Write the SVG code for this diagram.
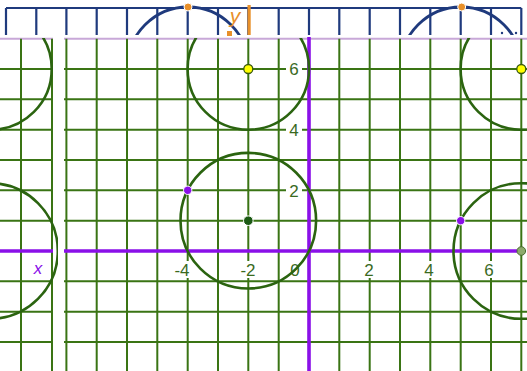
<svg xmlns="http://www.w3.org/2000/svg" width="527" height="371" viewBox="0 0 527 371">
<style>
.g{stroke:#3a7414;stroke-width:2;fill:none}
.nv{stroke:#1f3a7d;stroke-width:2.2;fill:none}
.c{stroke:#2b6410;stroke-width:2.6;fill:none}
.cn{stroke:#1f3a7d;stroke-width:2.8;fill:none}
.ax{stroke:#8a10e8;stroke-width:3.6;fill:none}
.lb{font-family:"Liberation Sans",Arial,sans-serif;font-size:17px;fill:#3a6a1e}
.bg{fill:#ffffff}
</style>
<defs>
<clipPath id="cm"><rect x="62" y="38" width="465" height="333"/></clipPath>
<clipPath id="cl"><rect x="0" y="38" width="58" height="333"/></clipPath>
<clipPath id="ct"><rect x="0" y="0" width="527" height="35"/></clipPath>
</defs>
<rect width="527" height="371" fill="#ffffff"/>
<g id="top-strip">
<path class="nv" d="M6 8H521.3M6 8V35M36.3 8V35M66.4 8V35M96.7 8V35M127 8V35M157.3 8V35M187.7 8V35M218 8V35M248.3 8V35M278.7 8V35M309 8V35M339.3 8V35M369.7 8V35M400 8V35M430.3 8V35M460.7 8V35M491 8V35M521.3 8V35"/>
<g clip-path="url(#ct)">
<circle class="cn" cx="188" cy="67.7" r="60.7"/>
<circle class="cn" cx="461" cy="67.7" r="60.7"/>
</g>
<circle cx="502" cy="33" r="1.2" fill="#1f3a7d"/>
<circle cx="516" cy="33" r="1.2" fill="#1f3a7d"/>
<rect x="227" y="31" width="5" height="5" fill="#e8902a"/>
<rect x="247.5" y="5" width="3.2" height="30" fill="#e8902a"/>
<text x="235" y="23" font-family="Liberation Sans,Arial,sans-serif" font-size="21" font-style="italic" fill="#e8902a" text-anchor="middle">y</text>
<circle cx="188" cy="7" r="4" fill="#e8902a" stroke="#ffffff" stroke-width="1"/>
<circle cx="461.7" cy="7" r="4" fill="#e8902a" stroke="#ffffff" stroke-width="1"/>
</g>
<g id="left-strip">
<path d="M0 38.7H53" stroke="#c8a8d8" stroke-width="2"/>
<path class="g" d="M21 38.7V371M52 38.7V371M0 69H53M0 99.3H53M0 129.7H53M0 160H53M0 190.3H53M0 220.7H53M0 281.3H53M0 311.7H53M0 342H53"/>
<path class="ax" d="M0 251H53"/>
<g clip-path="url(#cl)">
<circle class="c" cx="-9" cy="69" r="60.7"/>
<circle class="c" cx="-10" cy="251" r="67.8"/>
</g>
<text x="38" y="274" font-family="Liberation Sans,Arial,sans-serif" font-size="17" font-style="italic" fill="#8a10e8" text-anchor="middle">x</text>
</g>
<g id="grid">
<path d="M64 38.7H527" stroke="#c8a8d8" stroke-width="2"/>
<path class="g" d="M66.4 38.7V371M96.7 38.7V371M127 38.7V371M157.3 38.7V371M187.7 38.7V371M218 38.7V371M248.3 38.7V371M278.7 38.7V371M339.3 38.7V371M369.7 38.7V371M400 38.7V371M430.3 38.7V371M460.7 38.7V371M491 38.7V371M521.3 38.7V371M64 69H527M64 99.3H527M64 129.7H527M64 160H527M64 190.3H527M64 220.7H527M64 281.3H527M64 311.7H527M64 342H527"/>
</g>
<g id="labels">
<rect class="bg" x="286" y="60" width="16" height="18"/>
<text class="lb" x="294" y="75" text-anchor="middle">6</text>
<rect class="bg" x="286" y="121" width="16" height="18"/>
<text class="lb" x="294" y="135.5" text-anchor="middle">4</text>
<rect class="bg" x="286" y="182" width="16" height="18"/>
<text class="lb" x="294" y="197" text-anchor="middle">2</text>
<rect class="bg" x="288" y="261" width="14" height="17"/>
<text class="lb" x="295" y="276" text-anchor="middle">0</text>
<rect class="bg" x="361" y="261" width="16" height="17"/>
<text class="lb" x="369" y="276" text-anchor="middle">2</text>
<rect class="bg" x="421" y="261" width="16" height="17"/>
<text class="lb" x="429" y="276" text-anchor="middle">4</text>
<rect class="bg" x="481" y="261" width="16" height="17"/>
<text class="lb" x="489" y="276" text-anchor="middle">6</text>
<rect class="bg" x="172" y="261" width="20" height="17"/>
<text class="lb" x="182" y="276" text-anchor="middle">-4</text>
<rect class="bg" x="238" y="261" width="20" height="17"/>
<text class="lb" x="248" y="276" text-anchor="middle">-2</text>
</g>
<g id="axes">
<path class="ax" d="M64 251H517"/>
<path class="ax" d="M309 37V371"/>
</g>
<g id="circles" clip-path="url(#cm)">
<circle class="c" cx="248.3" cy="69" r="60.7"/>
<circle class="c" cx="248.3" cy="220.7" r="67.8"/>
<circle class="c" cx="521.3" cy="251" r="67.8"/>
<circle class="c" cx="521.3" cy="69" r="60.7"/>
</g>
<g id="points">
<circle cx="248.3" cy="69" r="4.5" fill="#ffff00" stroke="#3a5a10" stroke-width="1.3"/>
<circle cx="521.3" cy="69" r="4.5" fill="#ffff00" stroke="#3a5a10" stroke-width="1.3"/>
<circle cx="248.3" cy="220.7" r="4.8" fill="#1c5a14" stroke="#ffffff" stroke-width="1"/>
<circle cx="187.7" cy="190.3" r="4.2" fill="#8a10e8" stroke="#ffffff" stroke-width="1"/>
<circle cx="460.7" cy="220.7" r="4.2" fill="#8a10e8" stroke="#ffffff" stroke-width="1"/>
<circle cx="521.3" cy="251" r="4.3" fill="#8caa6c" stroke="#4a6a30" stroke-width="1"/>
</g>
</svg>
